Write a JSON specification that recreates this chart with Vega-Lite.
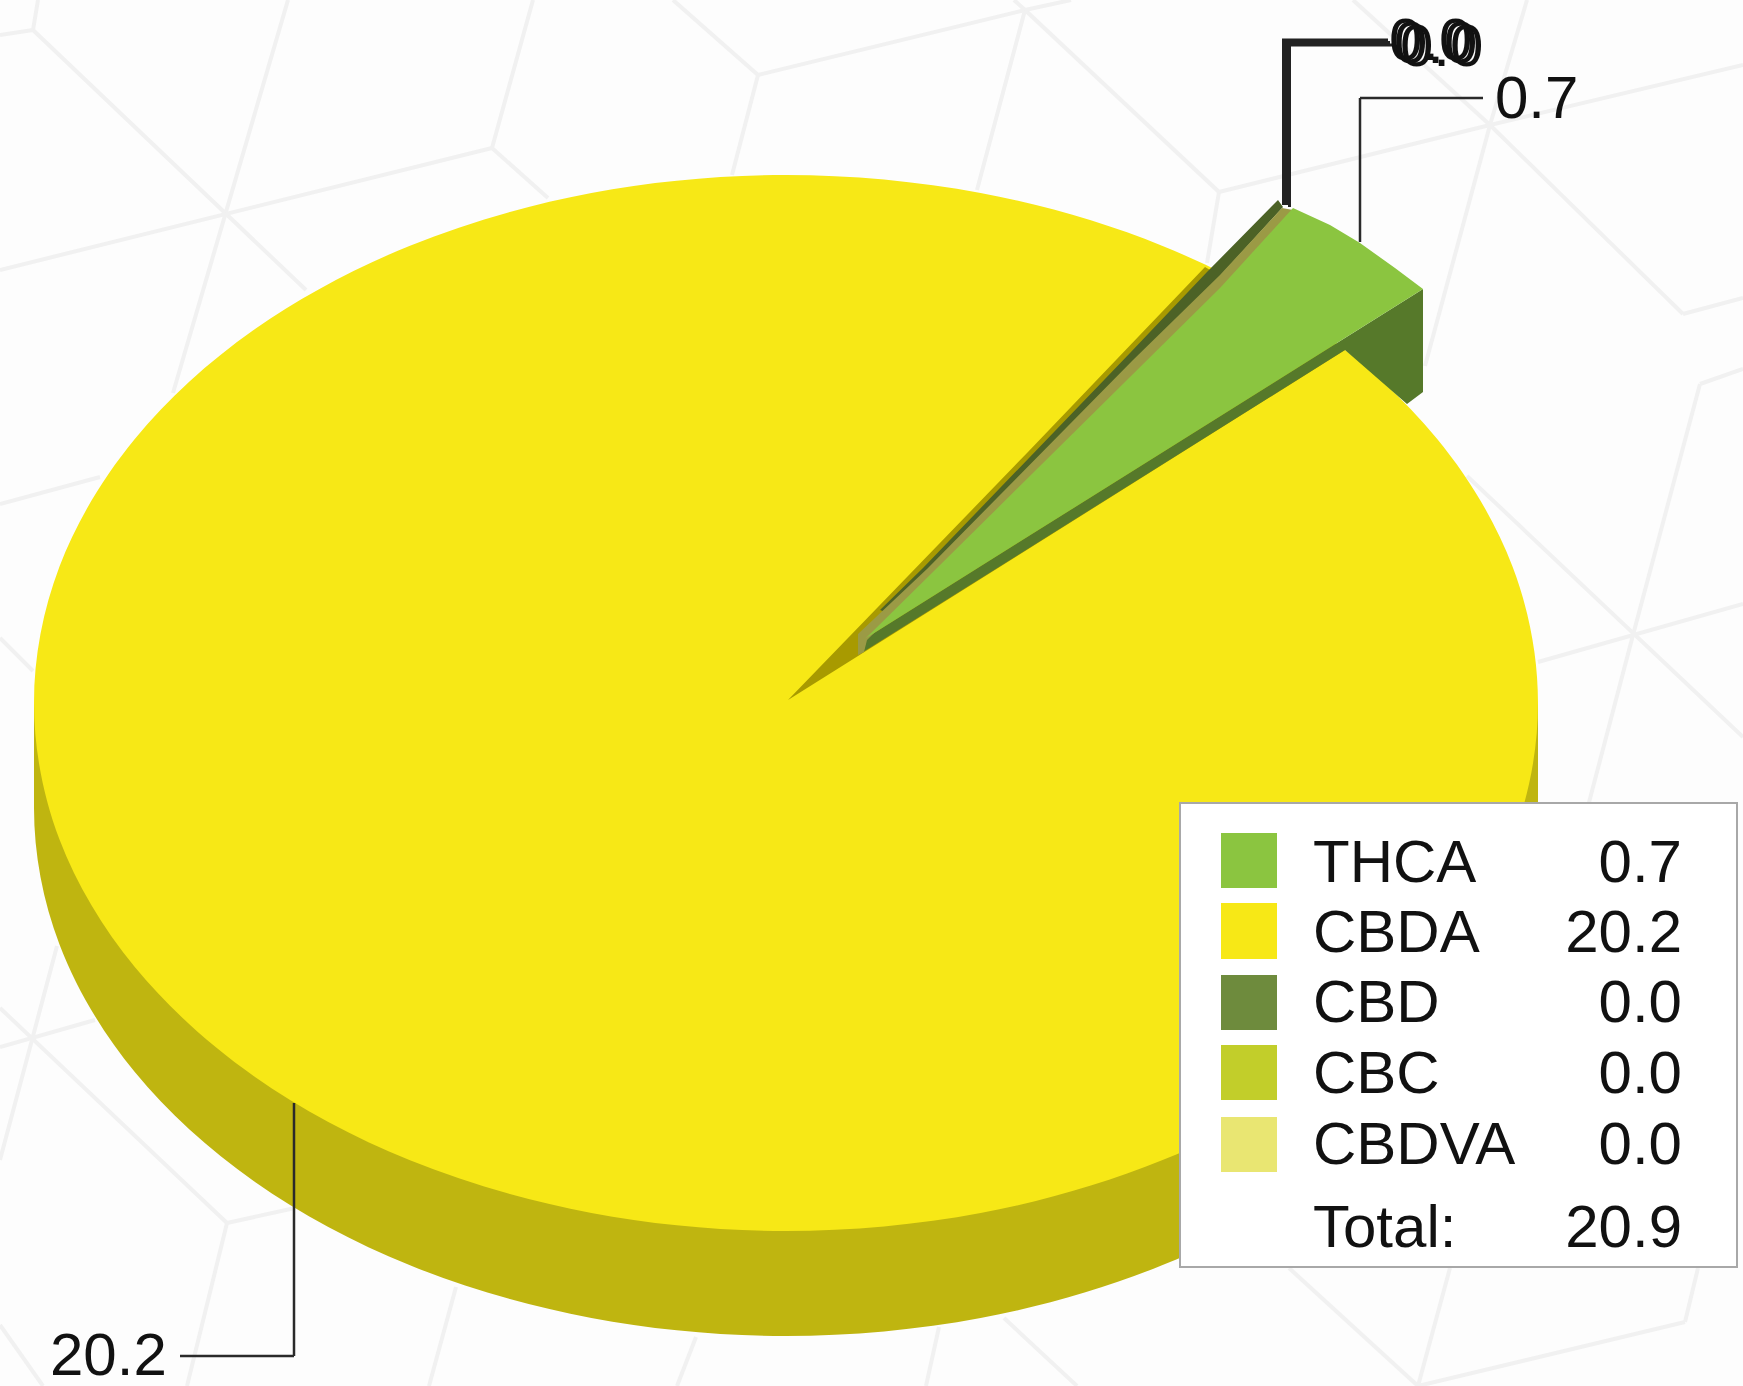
{
"$schema":"https://vega.github.io/schema/vega-lite/v6.json",
"width":1743,"height":1386,"padding":0,"autosize":{"type":"none"},
"background":"#fdfdfd",
"config":{"view":{"stroke":null}},
"datasets":{
"grid":[
{"x":0,"y":35,"x2":33,"y2":30},{"x":38,"y":0,"x2":33,"y2":30},{"x":33,"y":30,"x2":306,"y2":290},
{"x":288,"y":0,"x2":173,"y2":393},{"x":0,"y":270,"x2":492,"y2":148},{"x":492,"y":148,"x2":533,"y2":0},
{"x":492,"y":148,"x2":548,"y2":198},{"x":673,"y":0,"x2":758,"y2":75},{"x":758,"y":75,"x2":732,"y2":175},
{"x":758,"y":75,"x2":1025,"y2":10},{"x":1025,"y":10,"x2":977,"y2":190},{"x":1025,"y":10,"x2":1219,"y2":192},
{"x":1025,"y":10,"x2":1014,"y2":0},{"x":1025,"y":10,"x2":1071,"y2":0},{"x":1219,"y":192,"x2":1207,"y2":263},
{"x":1219,"y":192,"x2":1490,"y2":125},{"x":1490,"y":125,"x2":1527,"y2":0},{"x":1490,"y":125,"x2":1425,"y2":366},
{"x":1490,"y":125,"x2":1353,"y2":0},{"x":1490,"y":125,"x2":1683,"y2":314},{"x":1490,"y":125,"x2":1743,"y2":65},
{"x":1683,"y":314,"x2":1743,"y2":298},{"x":1700,"y":384,"x2":1743,"y2":369},{"x":1700,"y":384,"x2":1633,"y2":635},
{"x":1467,"y":476,"x2":1743,"y2":737},{"x":1538,"y":662,"x2":1743,"y2":604},{"x":1633,"y":635,"x2":1587,"y2":810},
{"x":1289,"y":1268,"x2":1418,"y2":1386},{"x":1450,"y":1268,"x2":1418,"y2":1386},{"x":1698,"y":1268,"x2":1685,"y2":1322},
{"x":1685,"y":1322,"x2":1418,"y2":1386},{"x":456,"y":1287,"x2":429,"y2":1386},{"x":696,"y":1337,"x2":677,"y2":1386},
{"x":939,"y":1327,"x2":926,"y2":1386},{"x":1004,"y":1318,"x2":1077,"y2":1386},
{"x":0,"y":504,"x2":100,"y2":477},{"x":0,"y":638,"x2":33,"y2":671},{"x":0,"y":1008,"x2":227,"y2":1223},
{"x":0,"y":1047,"x2":95,"y2":1020},{"x":57,"y":946,"x2":0,"y2":1160},{"x":227,"y":1223,"x2":295,"y2":1208},
{"x":227,"y":1223,"x2":187,"y2":1386},{"x":0,"y":1325,"x2":43,"y2":1386}
],
"base":[
{"part":"CBDA side","o":0,"x":1538,"y":808},{"part":"CBDA side","o":1,"x":1512.4,"y":671.3},{"part":"CBDA side","o":2,"x":1437.2,"y":544},{"part":"CBDA side","o":3,"x":1317.7,"y":434.6},{"part":"CBDA side","o":4,"x":1162,"y":350.7},{"part":"CBDA side","o":5,"x":980.6,"y":298},{"part":"CBDA side","o":6,"x":786,"y":280},{"part":"CBDA side","o":7,"x":591.4,"y":298},{"part":"CBDA side","o":8,"x":410,"y":350.7},{"part":"CBDA side","o":9,"x":254.3,"y":434.6},{"part":"CBDA side","o":10,"x":134.8,"y":544},{"part":"CBDA side","o":11,"x":59.6,"y":671.3},{"part":"CBDA side","o":12,"x":34,"y":808},{"part":"CBDA side","o":13,"x":59.6,"y":944.7},{"part":"CBDA side","o":14,"x":134.8,"y":1072},{"part":"CBDA side","o":15,"x":254.3,"y":1181.4},{"part":"CBDA side","o":16,"x":410,"y":1265.3},{"part":"CBDA side","o":17,"x":591.4,"y":1318},{"part":"CBDA side","o":18,"x":786,"y":1336},{"part":"CBDA side","o":19,"x":980.6,"y":1318},{"part":"CBDA side","o":20,"x":1162,"y":1265.3},{"part":"CBDA side","o":21,"x":1317.7,"y":1181.4},{"part":"CBDA side","o":22,"x":1437.2,"y":1072},{"part":"CBDA side","o":23,"x":1512.4,"y":944.7}
],
"wall":[{"part":"CBDA side","x":34,"x2":1538,"y":703,"y2":808}],
"top":[
{"part":"CBDA","o":0,"x":1538,"y":703},{"part":"CBDA","o":1,"x":1512.4,"y":566.3},{"part":"CBDA","o":2,"x":1437.2,"y":439},{"part":"CBDA","o":3,"x":1317.7,"y":329.6},{"part":"CBDA","o":4,"x":1162,"y":245.7},{"part":"CBDA","o":5,"x":980.6,"y":193},{"part":"CBDA","o":6,"x":786,"y":175},{"part":"CBDA","o":7,"x":591.4,"y":193},{"part":"CBDA","o":8,"x":410,"y":245.7},{"part":"CBDA","o":9,"x":254.3,"y":329.6},{"part":"CBDA","o":10,"x":134.8,"y":439},{"part":"CBDA","o":11,"x":59.6,"y":566.3},{"part":"CBDA","o":12,"x":34,"y":703},{"part":"CBDA","o":13,"x":59.6,"y":839.7},{"part":"CBDA","o":14,"x":134.8,"y":967},{"part":"CBDA","o":15,"x":254.3,"y":1076.4},{"part":"CBDA","o":16,"x":410,"y":1160.3},{"part":"CBDA","o":17,"x":591.4,"y":1213},{"part":"CBDA","o":18,"x":786,"y":1231},{"part":"CBDA","o":19,"x":980.6,"y":1213},{"part":"CBDA","o":20,"x":1162,"y":1160.3},{"part":"CBDA","o":21,"x":1317.7,"y":1076.4},{"part":"CBDA","o":22,"x":1437.2,"y":967},{"part":"CBDA","o":23,"x":1512.4,"y":839.7}
],
"slices":[
{"part":"CBDA inner","o":0,"x":788,"y":700},{"part":"CBDA inner","o":1,"x":1027,"y":453},{"part":"CBDA inner","o":2,"x":1205,"y":267},{"part":"CBDA inner","o":3,"x":1345,"y":350},
{"part":"THCA side","o":0,"x":863,"y":640},{"part":"THCA side","o":1,"x":1423,"y":289},{"part":"THCA side","o":2,"x":1423,"y":392},{"part":"THCA side","o":3,"x":1407,"y":404},{"part":"THCA side","o":4,"x":1345,"y":350},{"part":"THCA side","o":5,"x":863,"y":652},
{"part":"CBD side","o":0,"x":880,"y":610},{"part":"CBD side","o":1,"x":923,"y":568},{"part":"CBD side","o":2,"x":1130,"y":353},{"part":"CBD side","o":3,"x":1207,"y":272},{"part":"CBD side","o":4,"x":1278,"y":200},{"part":"CBD side","o":5,"x":1283,"y":207},{"part":"CBD side","o":6,"x":1220,"y":276},{"part":"CBD side","o":7,"x":1133,"y":361},{"part":"CBD side","o":8,"x":928,"y":569},{"part":"CBD side","o":9,"x":885,"y":612},
{"part":"CBC side","o":0,"x":858,"y":634},{"part":"CBC side","o":1,"x":928,"y":568},{"part":"CBC side","o":2,"x":1133,"y":360},{"part":"CBC side","o":3,"x":1220,"y":275},{"part":"CBC side","o":4,"x":1282,"y":208},{"part":"CBC side","o":5,"x":1293,"y":210},{"part":"CBC side","o":6,"x":1222,"y":291},{"part":"CBC side","o":7,"x":938,"y":570},{"part":"CBC side","o":8,"x":867,"y":640},{"part":"CBC side","o":9,"x":864,"y":652},{"part":"CBC side","o":10,"x":858,"y":655},
{"part":"THCA","o":0,"x":866,"y":638},{"part":"THCA","o":1,"x":937,"y":568},{"part":"THCA","o":2,"x":1220,"y":288},{"part":"THCA","o":3,"x":1293,"y":208},{"part":"THCA","o":4,"x":1330,"y":225},{"part":"THCA","o":5,"x":1360,"y":243},{"part":"THCA","o":6,"x":1395,"y":268},{"part":"THCA","o":7,"x":1423,"y":289},{"part":"THCA","o":8,"x":863,"y":640}
],
"leadersZero":[
{"label":"CBD","x":1283.5,"y":205,"x2":1283.5,"y2":39},{"label":"CBD","x":1282,"y":40,"x2":1388,"y2":40},
{"label":"CBC","x":1286.5,"y":205,"x2":1286.5,"y2":42},{"label":"CBC","x":1285,"y":42.5,"x2":1390,"y2":42.5},
{"label":"CBDVA","x":1289.5,"y":207,"x2":1289.5,"y2":44},{"label":"CBDVA","x":1288,"y":45,"x2":1392,"y2":45}
],
"leaders":[
{"label":"THCA","x":1360,"y":242,"x2":1360,"y2":98},{"label":"THCA","x":1360,"y":98,"x2":1483,"y2":98},
{"label":"CBDA","x":294,"y":1103,"x2":294,"y2":1356},{"label":"CBDA","x":294,"y":1356,"x2":180,"y2":1356}
],
"labels":[
{"label":"0.0","x":1389,"y":60},{"label":"0.0","x":1394,"y":63},{"label":"0.0","x":1400,"y":66},
{"label":"0.7","x":1495,"y":118},{"label":"20.2","x":50,"y":1375}
],
"box":[{"x":1180,"x2":1737,"y":803,"y2":1267}],
"swatches":[
{"part":"THCA","x":1221,"x2":1277,"y":833,"y2":888},
{"part":"CBDA","x":1221,"x2":1277,"y":903,"y2":959},
{"part":"CBD","x":1221,"x2":1277,"y":975,"y2":1030},
{"part":"CBC","x":1221,"x2":1277,"y":1045,"y2":1100},
{"part":"CBDVA","x":1221,"x2":1277,"y":1117,"y2":1172}
],
"names":[
{"label":"THCA","x":1313,"y":882},{"label":"CBDA","x":1313,"y":952},{"label":"CBD","x":1313,"y":1022},{"label":"CBC","x":1313,"y":1093},{"label":"CBDVA","x":1313,"y":1164},{"label":"Total:","x":1313,"y":1247}
],
"amounts":[
{"label":"0.7","x":1682,"y":882},{"label":"20.2","x":1682,"y":952},{"label":"0.0","x":1682,"y":1022},{"label":"0.0","x":1682,"y":1093},{"label":"0.0","x":1682,"y":1164},{"label":"20.9","x":1682,"y":1247}
]
},
"encoding":{
"x":{"field":"x","type":"quantitative","axis":null,"scale":{"domain":[0,1743],"range":[0,1743],"nice":false,"zero":false}},
"y":{"field":"y","type":"quantitative","axis":null,"scale":{"domain":[0,1386],"range":[0,1386],"nice":false,"zero":false}}
},
"layer":[
{"data":{"name":"grid"},"mark":{"type":"rule","stroke":"#f1f1f1","strokeWidth":4},"encoding":{"x2":{"field":"x2"},"y2":{"field":"y2"}}},
{"data":{"name":"base"},"mark":{"type":"line","filled":true,"interpolate":"cardinal-closed"},"encoding":{"order":{"field":"o"},"color":{"field":"part","legend":null,"scale":{"domain":["THCA","CBDA","CBD","CBC","CBDVA","CBDA side","CBDA inner","THCA side","CBD side","CBC side"],"range":["#8bc540","#f7e816","#6e8b3d","#c2ce2a","#e9e672","#bfb510","#a89a00","#56792a","#4c6226","#9b9a45"]}}}},
{"data":{"name":"wall"},"mark":{"type":"rect"},"encoding":{"x2":{"field":"x2"},"y2":{"field":"y2"},"color":{"field":"part","legend":null}}},
{"data":{"name":"top"},"mark":{"type":"line","filled":true,"interpolate":"cardinal-closed"},"encoding":{"order":{"field":"o"},"color":{"field":"part","legend":null}}},
{"data":{"name":"slices"},"mark":{"type":"line","filled":true},"encoding":{"order":{"field":"o"},"color":{"field":"part","legend":null}}},
{"data":{"name":"leadersZero"},"mark":{"type":"rule","stroke":"#222222","strokeWidth":3},"encoding":{"x2":{"field":"x2"},"y2":{"field":"y2"}}},
{"data":{"name":"leaders"},"mark":{"type":"rule","stroke":"#2a2a2a","strokeWidth":2.5},"encoding":{"x2":{"field":"x2"},"y2":{"field":"y2"}}},
{"data":{"name":"labels"},"mark":{"type":"text","align":"left","baseline":"alphabetic","font":"Liberation Sans","fontSize":60,"fill":"#111111"},"encoding":{"text":{"field":"label"}}},
{"data":{"name":"box"},"mark":{"type":"rect","fill":"#ffffff","stroke":"#a8a8a8","strokeWidth":2},"encoding":{"x2":{"field":"x2"},"y2":{"field":"y2"}}},
{"data":{"name":"swatches"},"mark":{"type":"rect"},"encoding":{"x2":{"field":"x2"},"y2":{"field":"y2"},"color":{"field":"part","legend":null}}},
{"data":{"name":"names"},"mark":{"type":"text","align":"left","baseline":"alphabetic","font":"Liberation Sans","fontSize":60,"fill":"#111111"},"encoding":{"text":{"field":"label"}}},
{"data":{"name":"amounts"},"mark":{"type":"text","align":"right","baseline":"alphabetic","font":"Liberation Sans","fontSize":60,"fill":"#111111"},"encoding":{"text":{"field":"label"}}}
]
}
